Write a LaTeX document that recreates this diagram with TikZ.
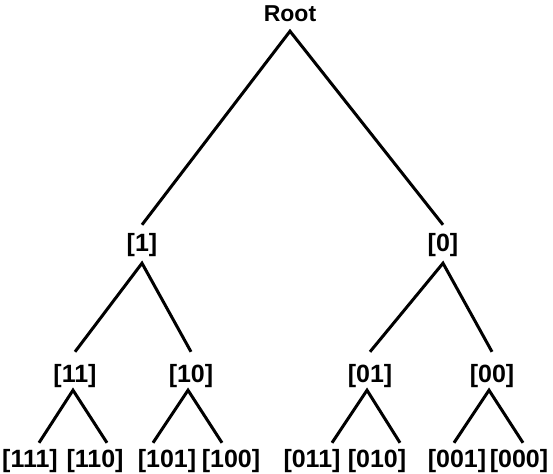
\documentclass[tikz,border=0pt]{standalone}
\usepackage{fontspec}
\setmainfont{Liberation Sans}
\begin{document}
\begin{tikzpicture}[x=1pt,y=-1pt,
  lbl/.style={anchor=base,font=\bfseries\fontsize{25}{28}\selectfont,inner xsep=0pt},
  lvla/.style={lbl,text height=21pt,text depth=7pt,inner ysep=5pt},
  lvlb/.style={lbl,text height=26pt,text depth=4pt,inner ysep=4pt},
  leaf/.style={lbl,text height=18pt,text depth=4pt,inner ysep=6pt},
  rootlbl/.style={anchor=base,font=\bfseries\fontsize{23}{26}\selectfont,text height=16pt,text depth=3pt,inner xsep=0pt,inner ysep=6pt},
  edge/.style={draw=black,line width=3pt,line join=miter}]
\useasboundingbox (0,0) rectangle (553,473);
\node[rootlbl] (r) at (290,22) {Root};
\node[lvla] (n1) at (142,251) {[1]};
\node[lvla] (n0) at (443,251) {[0]};
\node[lvlb] (n11) at (75,382) {[11]};
\node[lvlb] (n10) at (191,382) {[10]};
\node[lvlb] (n01) at (370,382) {[01]};
\node[lvlb] (n00) at (492,382) {[00]};
\node[leaf] (n111) at (30,467) {[111]};
\node[leaf] (n110) at (95,467) {[110]};
\node[leaf] (n101) at (167,467) {[101]};
\node[leaf] (n100) at (231,467) {[100]};
\node[leaf] (n011) at (312,467) {[011]};
\node[leaf] (n010) at (377,467) {[010]};
\node[leaf] (n001) at (457,467) {[001]};
\node[leaf] (n000) at (519,467) {[000]};
\draw[edge] (n1.north) -- (r.south) -- (n0.north);
\draw[edge] (n11.north) -- (n1.south) -- (n10.north);
\draw[edge] (n01.north) -- (n0.south) -- (n00.north);
\draw[edge] ([xshift=9pt]n111.north) -- ([xshift=-2pt]n11.south) -- ([xshift=12pt]n110.north);
\draw[edge] ([xshift=-14pt]n101.north) -- ([xshift=-3pt]n10.south) -- ([xshift=-9pt]n100.north);
\draw[edge] ([xshift=20pt]n011.north) -- ([xshift=-3pt]n01.south) -- ([xshift=23pt]n010.north);
\draw[edge] ([xshift=-3pt]n001.north) -- ([xshift=-3pt]n00.south) -- ([xshift=4pt]n000.north);
\end{tikzpicture}
\end{document}
